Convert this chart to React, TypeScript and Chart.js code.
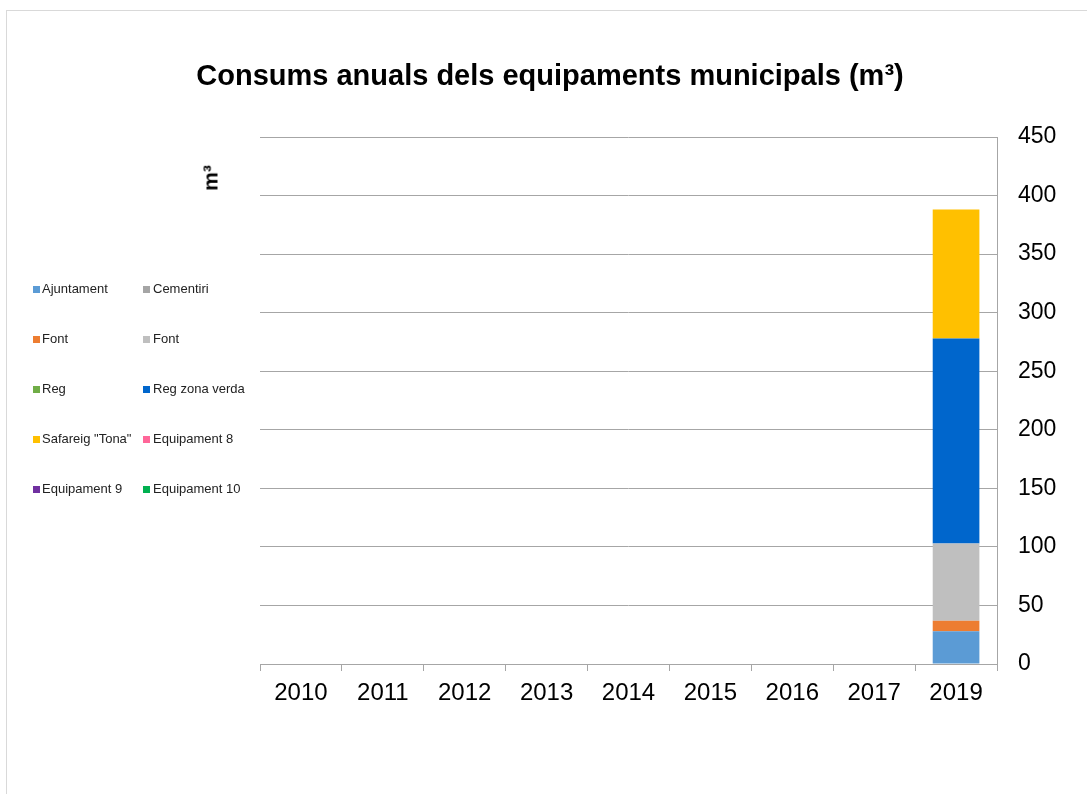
import React, { useEffect, useRef } from 'react';
import { Chart, registerables } from 'chart.js';

Chart.register(...registerables);

const years = ['2010', '2011', '2012', '2013', '2014', '2015', '2016', '2017', '2019'];

const ajuntament = [0, 0, 0, 0, 0, 0, 0, 0, 28];
const cementiri = [0, 0, 0, 0, 0, 0, 0, 0, 0];
const fontTaronja = [0, 0, 0, 0, 0, 0, 0, 0, 9];
const fontGris = [0, 0, 0, 0, 0, 0, 0, 0, 66];
const reg = [0, 0, 0, 0, 0, 0, 0, 0, 0];
const regZonaVerda = [0, 0, 0, 0, 0, 0, 0, 0, 175];
const safareigTona = [0, 0, 0, 0, 0, 0, 0, 0, 110];
const equipament8 = [0, 0, 0, 0, 0, 0, 0, 0, 0];
const equipament9 = [0, 0, 0, 0, 0, 0, 0, 0, 0];
const equipament10 = [0, 0, 0, 0, 0, 0, 0, 0, 0];

const seriesNames = ['Ajuntament', 'Cementiri', 'Font', 'Font', 'Reg', 'Reg zona verda', 'Safareig "Tona"', 'Equipament 8', 'Equipament 9', 'Equipament 10'];
const seriesValues = [ajuntament, cementiri, fontTaronja, fontGris, reg, regZonaVerda, safareigTona, equipament8, equipament9, equipament10];
const seriesColors = ['#5b9bd5', '#a5a5a5', '#ed7d31', '#bfbfbf', '#70ad47', '#0066cc', '#ffc000', '#ff6699', '#7030a0', '#00b050'];

const yMin = 0;
const yMax = 450;
const yStep = 50;

const titleText = 'Consums anuals dels equipaments municipals (m³)';
const yLabelText = 'm³';

const FONT = '"Liberation Sans", Arial, sans-serif';
const GRID = '#a6a6a6';

export default function App() {
  const canvasRef = useRef<HTMLCanvasElement | null>(null);

  useEffect(() => {
    if (!canvasRef.current) return;
    const chart = new Chart(canvasRef.current, {
      type: 'bar',
      data: {
        labels: years,
        datasets: seriesNames.map((name, i) => ({
          label: name,
          data: seriesValues[i],
          backgroundColor: seriesColors[i],
          borderWidth: 0,
          categoryPercentage: 1,
          barPercentage: 0.57,
        })),
      },
      options: {
        responsive: false,
        animation: false,
        devicePixelRatio: 1,
        layout: { padding: { left: 260, top: 137, right: 17, bottom: 70 } },
        plugins: {
          legend: { display: false },
          title: { display: false },
          tooltip: { enabled: false },
        },
        scales: {
          x: {
            stacked: true,
            offset: true,
            grid: {
              offset: true,
              drawOnChartArea: false,
              drawTicks: true,
              tickLength: 7,
              color: GRID,
            },
            border: { display: true, color: GRID },
            ticks: {
              color: '#000',
              font: { family: FONT, size: 24 },
              padding: 8,
              maxRotation: 0,
              autoSkip: false,
            },
            afterFit: (scale: any) => {
              scale.height = 60;
            },
          },
          y: {
            position: 'right',
            stacked: true,
            min: yMin,
            max: yMax,
            grid: { color: GRID, drawTicks: false },
            border: { display: true, color: GRID },
            ticks: {
              stepSize: yStep,
              color: '#000',
              font: { family: FONT, size: 23 },
              padding: 21,
            },
            afterFit: (scale: any) => {
              scale.width = 73;
            },
          },
        },
      },
    });
    return () => chart.destroy();
  }, []);

  const legendCols = [
    { box: 33, text: 42 },
    { box: 143, text: 153 },
  ];
  const legendRows = [289, 339, 389, 439, 489];

  return (
    <div style={{ position: 'fixed', left: 0, top: 0, width: 1087, height: 794, overflow: 'hidden', background: '#fff' }}>
      <div style={{ position: 'absolute', left: 6, top: 10, width: 1200, height: 900, border: '1px solid #d9d9d9', boxSizing: 'border-box' }} />
      <canvas ref={canvasRef} width={1087} height={794} style={{ position: 'absolute', left: 0, top: 0, width: 1087, height: 794 }} />
      <div
        style={{
          position: 'absolute',
          left: 550,
          top: 61,
          transform: 'translateX(-50%)',
          whiteSpace: 'nowrap',
          fontFamily: FONT,
          fontWeight: 'bold',
          fontSize: 29,
          lineHeight: '29px',
          color: '#000',
        }}
      >
        {titleText}
      </div>
      <div
        style={{
          position: 'absolute',
          left: 210,
          top: 178,
          transform: 'translate(-50%, -50%) rotate(-90deg)',
          whiteSpace: 'nowrap',
          fontFamily: FONT,
          fontWeight: 'bold',
          fontSize: 21,
          lineHeight: '21px',
          color: '#000',
        }}
      >
        {yLabelText}
      </div>
      {seriesNames.map((name, i) => {
        const col = legendCols[i % 2];
        const y = legendRows[Math.floor(i / 2)];
        return (
          <React.Fragment key={i}>
            <div style={{ position: 'absolute', left: col.box, top: y - 3, width: 7, height: 7, background: seriesColors[i] }} />
            <div
              style={{
                position: 'absolute',
                left: col.text,
                top: y - 8,
                whiteSpace: 'nowrap',
                fontFamily: FONT,
                fontSize: 13,
                lineHeight: '16px',
                color: '#222',
              }}
            >
              {name}
            </div>
          </React.Fragment>
        );
      })}
    </div>
  );
}
